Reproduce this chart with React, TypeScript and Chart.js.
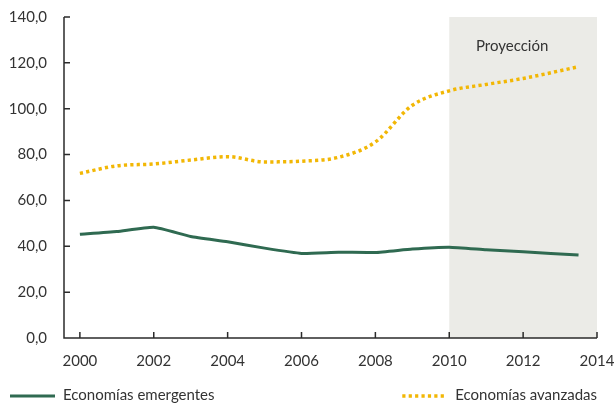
import React, { useEffect, useRef } from "react";
import { Chart, registerables } from "chart.js";

Chart.register(...registerables);

// Años (el último punto corresponde a mediados de 2013)
const years = [2000, 2001, 2002, 2003, 2004, 2005, 2006, 2007, 2008, 2009, 2010, 2011, 2012, 2013.5];
const emergentes = [45.2, 46.4, 48.3, 44.3, 42.0, 39.2, 36.9, 37.4, 37.3, 38.8, 39.6, 38.5, 37.6, 36.2];
const avanzadas = [71.8, 75.1, 75.9, 77.6, 79.1, 76.8, 77.1, 78.8, 85.5, 101.5, 107.8, 110.6, 113.2, 118.3];

const xTicks = [2000, 2002, 2004, 2006, 2008, 2010, 2012, 2014];
const yTicks = [0, 20, 40, 60, 80, 100, 120, 140];

const projectionStart = 2010;
const projectionEnd = 2014;
const projectionLabel = "Proyección";

const seriesNames = ["Economías emergentes", "Economías avanzadas"];

const GREEN = "#2f6a51";
const YELLOW = "#f2b705";
const TEXT = "#333333";
const AXIS = "#2b2b2b";
const SHADE = "#ebebe7";
const FONT = "Lato, 'Open Sans', sans-serif";

const projectionPlugin = {
  id: "projectionBand",
  beforeDraw(chart: any) {
    const { ctx, chartArea, scales } = chart;
    const x0 = scales.x.getPixelForValue(projectionStart);
    const x1 = scales.x.getPixelForValue(projectionEnd);
    ctx.save();
    ctx.fillStyle = SHADE;
    ctx.fillRect(x0, chartArea.top, x1 - x0, chartArea.bottom - chartArea.top);
    ctx.fillStyle = TEXT;
    ctx.font = `15px ${FONT}`;
    ctx.textAlign = "center";
    ctx.textBaseline = "middle";
    ctx.fillText(projectionLabel, (x0 + x1) / 2 - 11, chartArea.top + 29);
    ctx.restore();
  },
};

// Ejes con marcas hacia el interior y leyenda inferior
const axesLegendPlugin = {
  id: "axesLegend",
  afterDraw(chart: any) {
    const { ctx, chartArea, scales } = chart;
    const { left, right, top, bottom } = chartArea;
    const tick = 6;
    ctx.save();
    ctx.strokeStyle = AXIS;
    ctx.lineWidth = 1.5;
    ctx.beginPath();
    ctx.moveTo(left, top);
    ctx.lineTo(left, bottom);
    ctx.lineTo(right, bottom);
    for (const v of yTicks) {
      const y = scales.y.getPixelForValue(v);
      ctx.moveTo(left, y);
      ctx.lineTo(left + tick, y);
    }
    for (const v of xTicks) {
      const x = scales.x.getPixelForValue(v);
      ctx.moveTo(x, bottom);
      ctx.lineTo(x, bottom - tick);
    }
    ctx.stroke();

    // leyenda
    const ly = 395;
    ctx.font = `15px ${FONT}`;
    ctx.textBaseline = "middle";
    ctx.fillStyle = TEXT;

    ctx.strokeStyle = GREEN;
    ctx.lineWidth = 3;
    ctx.beginPath();
    ctx.moveTo(10, ly + 1);
    ctx.lineTo(55, ly + 1);
    ctx.stroke();
    ctx.textAlign = "left";
    ctx.fillText(seriesNames[0], 63, ly);

    ctx.textAlign = "right";
    ctx.fillText(seriesNames[1], right, ly);
    const w = ctx.measureText(seriesNames[1]).width;
    const lx1 = right - w - 9;
    ctx.strokeStyle = YELLOW;
    ctx.lineWidth = 3.5;
    ctx.setLineDash([3.2, 3.2]);
    ctx.beginPath();
    ctx.moveTo(lx1 - 44, ly + 1);
    ctx.lineTo(lx1, ly + 1);
    ctx.stroke();
    ctx.restore();
  },
};

export default function App() {
  const canvasRef = useRef<HTMLCanvasElement | null>(null);

  useEffect(() => {
    document.body.style.margin = "0";
    const canvas = canvasRef.current;
    if (!canvas) return;
    const chart = new Chart(canvas, {
      type: "line",
      data: {
        datasets: [
          {
            label: seriesNames[0],
            data: years.map((x, i) => ({ x, y: emergentes[i] })),
            borderColor: GREEN,
            borderWidth: 3,
            pointRadius: 0,
            tension: 0.15,
            fill: false,
          },
          {
            label: seriesNames[1],
            data: years.map((x, i) => ({ x, y: avanzadas[i] })),
            borderColor: YELLOW,
            borderWidth: 3.5,
            borderDash: [3.2, 3.2],
            pointRadius: 0,
            cubicInterpolationMode: "monotone",
            fill: false,
          },
        ],
      },
      options: {
        responsive: false,
        animation: false,
        layout: { padding: { top: 17, right: 17, left: 0, bottom: 0 } },
        plugins: {
          legend: { display: false },
          tooltip: { enabled: false },
        },
        scales: {
          x: {
            type: "linear",
            min: 1999.57,
            max: 2014,
            afterFit: (s: any) => {
              s.height = 66;
              s.paddingLeft = 0;
              s.paddingRight = 0;
            },
            afterBuildTicks: (s: any) => {
              s.ticks = xTicks.map((value) => ({ value }));
            },
            grid: { display: false, drawTicks: false },
            border: { display: false },
            ticks: {
              color: TEXT,
              font: { family: FONT, size: 15 },
              padding: 14,
              maxRotation: 0,
              autoSkip: false,
              callback: (v: any) => String(v),
            },
          },
          y: {
            min: 0,
            max: 140,
            afterFit: (s: any) => {
              s.width = 64;
              s.paddingTop = 0;
              s.paddingBottom = 0;
            },
            afterBuildTicks: (s: any) => {
              s.ticks = yTicks.map((value) => ({ value }));
            },
            grid: { display: false, drawTicks: false },
            border: { display: false },
            ticks: {
              color: TEXT,
              font: { family: FONT, size: 15 },
              padding: 17,
              callback: (v: any) => Number(v).toFixed(1).replace(".", ","),
            },
          },
        },
      },
      plugins: [projectionPlugin, axesLegendPlugin],
    });
    return () => chart.destroy();
  }, []);

  return <canvas ref={canvasRef} width={614} height={404} style={{ display: "block" }} />;
}
